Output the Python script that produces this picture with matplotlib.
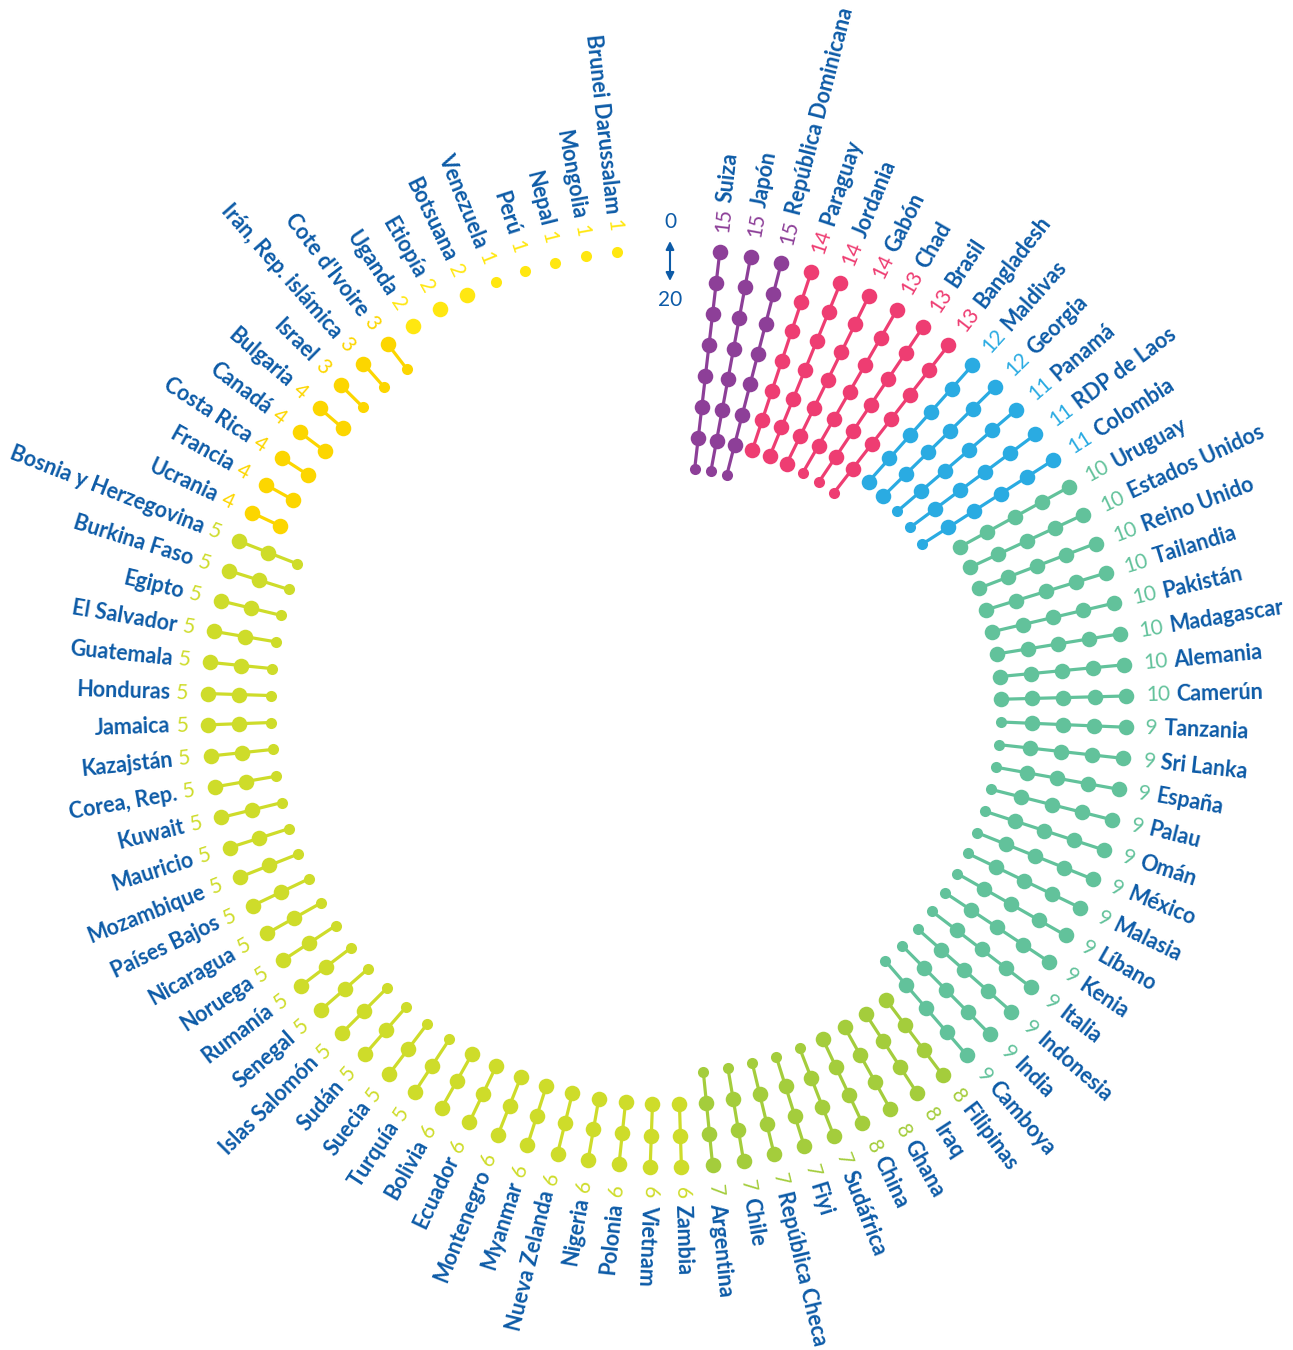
import numpy as np
import matplotlib.pyplot as plt
from matplotlib.font_manager import FontProperties

# countries clockwise from the top, and their values (0-20 scale)
countries = [
    "Suiza", "Japón", "República Dominicana", "Paraguay", "Jordania", "Gabón",
    "Chad", "Brasil", "Bangladesh", "Maldivas", "Georgia", "Panamá",
    "RDP de Laos", "Colombia", "Uruguay", "Estados Unidos", "Reino Unido",
    "Tailandia", "Pakistán", "Madagascar", "Alemania", "Camerún", "Tanzania",
    "Sri Lanka", "España", "Palau", "Omán", "México", "Malasia", "Líbano",
    "Kenia", "Italia", "Indonesia", "India", "Camboya", "Filipinas", "Iraq",
    "Ghana", "China", "Sudáfrica", "Fiyi", "República Checa", "Chile",
    "Argentina", "Zambia", "Vietnam", "Polonia", "Nigeria", "Nueva Zelanda",
    "Myanmar", "Montenegro", "Ecuador", "Bolivia", "Turquía", "Suecia",
    "Sudán", "Islas Salomón", "Senegal", "Rumanía", "Noruega", "Nicaragua",
    "Países Bajos", "Mozambique", "Mauricio", "Kuwait", "Corea, Rep.",
    "Kazajstán", "Jamaica", "Honduras", "Guatemala", "El Salvador", "Egipto",
    "Burkina Faso", "Bosnia y Herzegovina", "Ucrania", "Francia", "Costa Rica",
    "Canadá", "Bulgaria", "Israel", "Irán, Rep. islámica", "Cote d'Ivoire",
    "Uganda", "Etiopía", "Botsuana", "Venezuela", "Perú", "Nepal", "Mongolia",
    "Brunei Darussalam",
]
values = [
    15, 15, 15, 14, 14, 14, 13, 13, 13, 12, 12, 11, 11, 11,
    10, 10, 10, 10, 10, 10, 10, 10,
    9, 9, 9, 9, 9, 9, 9, 9, 9, 9, 9, 9, 9,
    8, 8, 8, 8, 7, 7, 7, 7, 7,
    6, 6, 6, 6, 6, 6, 6, 6, 6,
    5, 5, 5, 5, 5, 5, 5, 5, 5, 5, 5, 5, 5, 5, 5, 5, 5, 5, 5, 5, 5,
    4, 4, 4, 4, 4, 3, 3, 3, 2, 2, 2, 1, 1, 1, 1, 1,
]

value_colors = {
    15: "#8d3f98", 14: "#ee3d72", 13: "#ee3d72", 12: "#2aabe2", 11: "#2aabe2",
    10: "#62c29b", 9: "#62c29b", 8: "#a4cd3c", 7: "#a4cd3c",
    6: "#cedc2a", 5: "#cedc2a", 4: "#fcd600", 3: "#fcd600",
    2: "#ffe711", 1: "#ffe711",
}
name_color = "#0d5ba7"

W, H = 1293, 1350
cx, cy = 667, 708
theta0, step = 6.6, 3.9          # degrees, clockwise from top
r_first, per_unit = 459, 15.6    # radius of position 1, px per unit
r_num = 479

fig = plt.figure(figsize=(W / 100, H / 100), dpi=100)
ax = fig.add_axes([0, 0, 1, 1])
ax.set_xlim(0, W)
ax.set_ylim(H, 0)
ax.axis("off")

fp_num = FontProperties(family="Lato", size=15)
fp_name = FontProperties(family="Lato", size=15.5, weight="bold")
renderer = fig.canvas.get_renderer()


def radius(p):
    return r_first - (p - 1) * per_unit


for i, (name, v) in enumerate(zip(countries, values)):
    th_deg = theta0 + i * step
    th = np.deg2rad(th_deg)
    sx, sy = np.sin(th), -np.cos(th)
    col = value_colors[v]

    ndots = int(np.ceil(v / 2))
    pos = np.arange(1, 2 * ndots, 2)
    rr = radius(pos)
    xs, ys = cx + rr * sx, cy + rr * sy
    if ndots > 1:
        ax.plot(xs, ys, color=col, lw=2.3, solid_capstyle="round", zorder=1)
    for k in range(ndots):
        small = (k == ndots - 1) and (v % 2 == 1)
        ax.plot(xs[k], ys[k], "o", color=col, ms=8.0 if small else 11.2,
                mec="none", zorder=2)

    # labels
    num = str(v)
    wn = renderer.get_text_width_height_descent(num, fp_num, ismath=False)[0]
    r_name = r_num + wn + 6
    if th_deg < 184:
        rot, ha = 90 - th_deg, "left"
    else:
        rot, ha = 270 - th_deg, "right"
    ax.text(cx + r_num * sx, cy + r_num * sy, num, fontproperties=fp_num,
            color=col, rotation=rot, rotation_mode="anchor", ha=ha, va="center")
    ax.text(cx + r_name * sx, cy + r_name * sy, name, fontproperties=fp_name,
            color=name_color, rotation=rot, rotation_mode="anchor", ha=ha,
            va="center")

# scale legend
ax.text(670, 222, "0", fontproperties=fp_num, color=name_color,
        ha="center", va="center")
ax.text(670, 300, "20", fontproperties=fp_num, color=name_color,
        ha="center", va="center")
ax.annotate("", xy=(670, 241), xytext=(670, 281),
            arrowprops=dict(arrowstyle="<|-|>", color=name_color, lw=1.5,
                            mutation_scale=12, shrinkA=0, shrinkB=0))

fig.savefig("out.png", dpi=100)
